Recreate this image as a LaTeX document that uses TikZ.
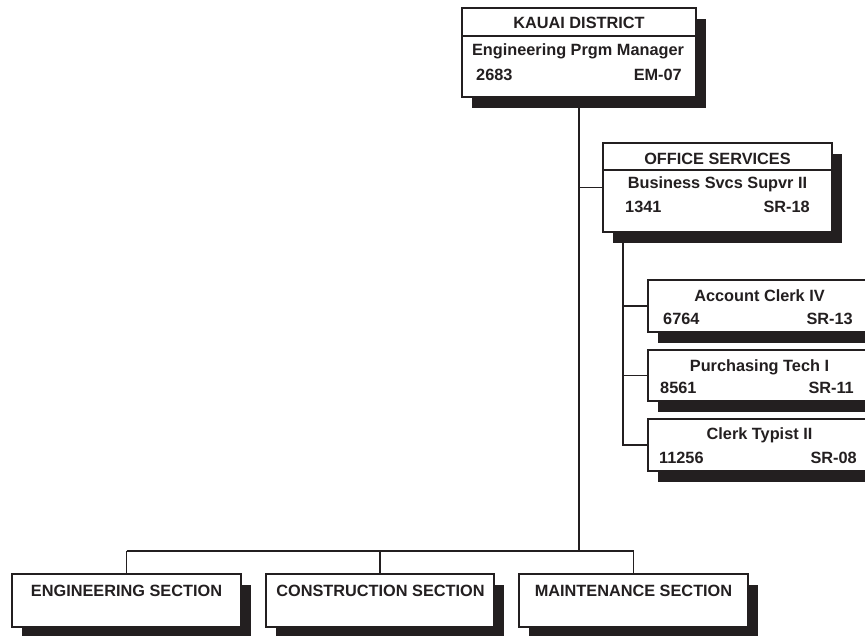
\documentclass[tikz,border=0pt]{standalone}
\usepackage{fontspec}
\setmainfont{Liberation Sans}
\usetikzlibrary{shadows}
\definecolor{ink}{RGB}{35,31,32}
\begin{document}
\begin{tikzpicture}[x=1pt,y=-1pt,
  box/.style={draw=ink, line width=1.4pt, fill=white, inner sep=0pt, rectangle,
    drop shadow={fill=ink, opacity=1, shadow xshift=10pt, shadow yshift=-11pt}},
  wire/.style={draw=ink, line width=1.3pt},
  lbl/.style={font=\bfseries\fontsize{16.3}{18}\selectfont, text=ink, inner sep=0pt},
]
\clip (0,0) rectangle (865,636);

% connectors
\coordinate (j) at (579,551);
\coordinate (os) at (623,232);

% boxes
\node[box, minimum width=234pt, minimum height=89pt] (top) at (579,52.5) {};
\node[box, minimum width=229pt, minimum height=89pt] (off) at (717.5,187.5) {};
\node[box, minimum width=223pt, minimum height=52pt] (c1) at (759.5,306) {};
\node[box, minimum width=223pt, minimum height=51pt] (c2) at (759.5,375.5) {};
\node[box, minimum width=223pt, minimum height=52pt] (c3) at (759.5,445) {};
\node[box, minimum width=229pt, minimum height=53pt] (eng) at (126.5,600.5) {};
\node[box, minimum width=228pt, minimum height=53pt] (con) at (380,600.5) {};
\node[box, minimum width=229pt, minimum height=53pt] (mnt) at (633.5,600.5) {};

% dividers
\draw[wire] (top.west |- 0,36) -- (top.east |- 0,36);
\draw[wire] (off.west |- 0,170) -- (off.east |- 0,170);

% lines
\draw[wire] (top.south) -- (j);
\draw[wire] (top.south |- off.west) -- (off.west);
\draw[wire] (os) |- (c3.west);
\draw[wire] (os |- c1.west) -- (c1.west);
\draw[wire] (os |- c2.west) -- (c2.west);
\draw[wire] (eng.north |- j) -- (mnt.north |- j);
\draw[wire] (eng.north |- j) -- (eng.north);
\draw[wire] (con.north |- j) -- (con.north);
\draw[wire] (mnt.north |- j) -- (mnt.north);

% texts
\node[lbl, anchor=base] (t1) at (579,29) {KAUAI DISTRICT};
\node[lbl, anchor=base] (t2) at (578,56) {Engineering Prgm Manager};
\node[lbl, anchor=base west] (t3) at (476,81) {2683};
\node[lbl, anchor=base east] (t4) at (682,81) {EM-07};

\node[lbl, anchor=base] (o1) at (717.5,165) {OFFICE SERVICES};
\node[lbl, anchor=base] (o2) at (717.5,189) {Business Svcs Supvr II};
\node[lbl, anchor=base west] (o3) at (625,213) {1341};
\node[lbl, anchor=base east] (o4) at (810,213) {SR-18};

\node[lbl, anchor=base] (a1) at (759.5,302) {Account Clerk IV};
\node[lbl, anchor=base west] (a2) at (663,325) {6764};
\node[lbl, anchor=base east] (a3) at (853,325) {SR-13};

\node[lbl, anchor=base] (p1) at (759.5,371) {Purchasing Tech I};
\node[lbl, anchor=base west] (p2) at (660,393) {8561};
\node[lbl, anchor=base east] (p3) at (854,393) {SR-11};

\node[lbl, anchor=base] (k1) at (759.5,439) {Clerk Typist II};
\node[lbl, anchor=base west] (k2) at (659,463) {11256};
\node[lbl, anchor=base east] (k3) at (857,463) {SR-08};

\node[lbl, anchor=base] (e1) at (126.5,596) {ENGINEERING SECTION};
\node[lbl, anchor=base] (n1) at (380.5,596) {CONSTRUCTION SECTION};
\node[lbl, anchor=base] (m1) at (633.5,596) {MAINTENANCE SECTION};
\end{tikzpicture}
\end{document}
